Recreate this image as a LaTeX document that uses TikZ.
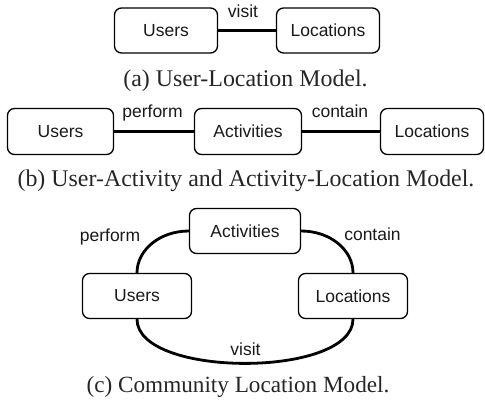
\documentclass[tikz,border=0pt]{standalone}
\usepackage{fontspec}
\setmainfont{Liberation Serif}
\newfontfamily\arialf{Liberation Sans}
\begin{document}
\begin{tikzpicture}[x=1pt,y=-1pt,
  ent/.style={draw=black,line width=1.3pt,rounded corners=7pt,inner sep=0pt,
    minimum height=45pt,font=\arialf\fontsize{17.5}{20}\selectfont,text=black!90},
  rel/.style={line width=2.8pt,black},
  lbl/.style={anchor=base,inner sep=0pt,font=\arialf\fontsize{17.5}{20}\selectfont,text=black!90},
  captext/.style={anchor=base,inner sep=0pt,font=\fontsize{23.9}{28}\selectfont,text=black!85}]
\useasboundingbox (0,0) rectangle (485,405);
% (a)
\node[ent,minimum width=103pt] (ua) at (166,30.5) {Users};
\node[ent,minimum width=103pt] (la) at (328,30.5) {Locations};
\draw[rel] (ua) -- (la);
\node[lbl] (va) at (243,17.5) {visit};
\node[captext] (ca) at (245.5,86) {(a) User-Location Model.};
% (b)
\node[ent,minimum width=106pt,minimum height=46pt] (ub) at (60.5,131.5) {Users};
\node[ent,minimum width=107pt,minimum height=46pt] (ab) at (248,131.5) {Activities};
\node[ent,minimum width=103pt,minimum height=46pt] (lb) at (432,131.5) {Locations};
\draw[rel] (ub) -- (ab);
\draw[rel] (ab) -- (lb);
\node[lbl] (pb) at (152.5,117) {perform};
\node[lbl] (cb) at (340,117) {contain};
\node[captext] (cbcap) at (246,186) {(b) User-Activity and Activity-Location Model.};
% (c)
\node[ent,minimum width=111pt] (ac) at (245,231) {Activities};
\node[ent,minimum width=109pt] (uc) at (137,296) {Users};
\node[ent,minimum width=109pt] (lc) at (353,296) {Locations};
\draw[rel] (ac.west) .. controls +(-29,0) and +(0,-23) .. (uc.north);
\draw[rel] (ac.east) .. controls +(29,0) and +(0,-23) .. (lc.north);
\draw[rel] (uc.south) .. controls +(0,59) and +(0,59) .. (lc.south);
\node[lbl] (pc) at (110,241.5) {perform};
\node[lbl] (cc) at (372.5,240) {contain};
\node[lbl] (vc) at (245.5,355) {visit};
\node[captext,font=\fontsize{23.2}{28}\selectfont] (ccap) at (238,392) {(c) Community Location Model.};
\end{tikzpicture}
\end{document}
